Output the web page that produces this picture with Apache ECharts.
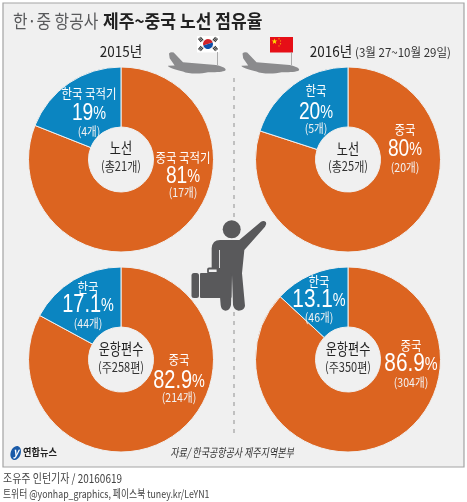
<!DOCTYPE html>
<html>
<head>
<meta charset="utf-8">
<style>
html, body { margin: 0; padding: 0; background: #fff; }
#main { width: 467px; height: 502px; }
</style>
<script src="https://cdn.jsdelivr.net/npm/echarts@6/dist/echarts.min.js"></script>
</head>
<body>
<div id="main"></div>
<script>
// 값: [중국, 한국]
var routes2015 = [81, 19];
var routes2016 = [80, 20];
var flights2015 = [82.9, 17.1];
var flights2016 = [86.9, 13.1];
var routeCount2015 = [17, 4];
var routeCount2016 = [20, 5];
var flightCount2015 = [214, 44];
var flightCount2016 = [304, 46];

var ORANGE = '#dc6420';
var BLUE = '#0b85c1';
var FONT = '"Noto Sans CJK KR", sans-serif';
var GREY = '#59595b';

var myChart = echarts.init(document.getElementById('main'), null, { renderer: 'canvas' });

// 비행기, 사람 외곽선 (zoom 3배 좌표)
echarts.graphic.registerShape('planeShape', echarts.graphic.extendPath(
    'M3 6 Q8 0 17 3 L45 32 L135 40 C160 42 173 50 173 55 C172 62 140 63 120 62 C100 68 60 68 45 60 C20 55 0 48 0 43 L20 42 L5 20 Z', {}));
echarts.graphic.registerShape('manShape', echarts.graphic.extendPath(
    'M185 175 Q187 150 210 150 L268 150 L333 95 Q342 90 348 97 Q351 104 345 110 L283 180 L276 250 L285 348 Q282 362 266 362 Q252 360 249 345 L246 255 L243 345 Q240 362 226 362 Q213 360 212 345 L210 320 L185 240 Z', {}));

function pie(center, values) {
    return {
        type: 'pie',
        silent: true,
        center: center,
        radius: [32.5, 92.5],
        startAngle: 90,
        label: { show: false },
        labelLine: { show: false },
        itemStyle: { borderColor: '#f0f0f0', borderWidth: 1 },
        data: [
            { value: values[0], name: '중국', itemStyle: { color: ORANGE } },
            { value: values[1], name: '한국', itemStyle: { color: BLUE } }
        ]
    };
}

// 글자 하나: 장평은 sx로 줄인다
function txt(text, x, y, size, fill, opt) {
    opt = opt || {};
    return {
        type: 'text',
        x: x,
        y: y,
        z: 20,
        scaleX: opt.sx || 0.88,
        silent: true,
        style: {
            text: text,
            x: 0,
            y: 0,
            fill: fill,
            align: opt.align || 'center',
            verticalAlign: 'middle',
            font: (opt.style || 'normal') + ' ' + (opt.weight || 'normal') + ' ' + size + 'px ' + FONT
        }
    };
}

// 퍼센트: 숫자는 크게, %는 작게
function pct(value, x, y, size) {
    return {
        type: 'text',
        x: x,
        y: y,
        z: 20,
        scaleX: 0.8,
        silent: true,
        style: {
            text: '{n|' + value + '}{p|%}',
            x: 0,
            y: 0,
            align: 'center',
            verticalAlign: 'middle',
            rich: {
                n: { fontFamily: 'Liberation Sans', fontSize: size, fill: '#fff', color: '#fff' },
                p: { fontFamily: 'Liberation Sans', fontSize: 18, fill: '#fff', color: '#fff', padding: [3, 0, 0, 0] }
            }
        }
    };
}

function rect(x, y, w, h, fill, z, r) {
    return {
        type: 'rect', z: z || 5, silent: true,
        shape: { x: x, y: y, width: w, height: h, r: r || 0 },
        style: { fill: fill }
    };
}

function line(x1, y1, x2, y2, stroke, width, dash) {
    return {
        type: 'line', z: 6, silent: true,
        shape: { x1: x1, y1: y1, x2: x2, y2: y2 },
        style: { stroke: stroke, lineWidth: width, lineDash: dash || null }
    };
}

function plane(x, y) {
    return {
        type: 'planeShape', z: 5, silent: true, x: x, y: y, scaleX: 1 / 3, scaleY: 1 / 3,
        style: { fill: '#8b8b8d' }
    };
}

function star(cx, cy, r) {
    var pts = [];
    for (var i = 0; i < 10; i++) {
        var a = -Math.PI / 2 + i * Math.PI / 5;
        var rr = i % 2 ? r * 0.4 : r;
        pts.push([cx + rr * Math.cos(a), cy + rr * Math.sin(a)]);
    }
    return { type: 'polygon', z: 7, silent: true, shape: { points: pts }, style: { fill: '#ffde00' } };
}

function trigram(cx, cy, rot) {
    return {
        type: 'group', x: cx, y: cy, rotation: rot, silent: true,
        children: [
            rect(-2.2, -1.8, 4.4, 0.9, '#222', 7),
            rect(-2.2, -0.45, 4.4, 0.9, '#222', 7),
            rect(-2.2, 0.9, 4.4, 0.9, '#222', 7)
        ]
    };
}

var elements = [];

// 바탕
elements.push({
    type: 'rect', z: 0, silent: true,
    shape: { x: 3, y: 3, width: 461, height: 464 },
    style: { fill: '#f0f0f0', stroke: '#a3a3a3', lineWidth: 1.2 }
});

// 제목
elements.push(txt('한·중 항공사', 13, 21, 18, '#58595b', { align: 'left', sx: 0.88 }));
elements.push(txt('제주~중국 노선 점유율', 103, 21, 18, '#222', { align: 'left', weight: 'bold', sx: 0.95 }));

// 연도
elements.push(txt('2015년', 121, 51, 15, '#222', { sx: 0.9 }));
elements.push(txt('2016년', 331, 51, 15, '#222', { sx: 0.9 }));
elements.push(txt('(3월 27~10월 29일)', 403, 52, 12, '#333', { sx: 0.96 }));

// 가운데 점선
elements.push(line(234, 78, 234, 220, '#b0b0b0', 1.5, [4, 5]));
elements.push(line(234, 312, 234, 436, '#b0b0b0', 1.5, [4, 5]));

// 비행기, 깃발
elements.push(plane(168, 51.5));
elements.push(plane(241.5, 51.5));
elements.push(line(217.5, 52, 217.5, 65, '#999', 0.8));
elements.push(line(291.5, 52, 291.5, 65, '#999', 0.8));

elements.push(rect(197, 36, 22.5, 16.5, '#fff', 5));
elements.push({
    type: 'sector', z: 7, silent: true,
    shape: { cx: 208, cy: 44, r: 5, startAngle: Math.PI * 0.9, endAngle: Math.PI * 1.9 },
    style: { fill: '#d2232a' }
});
elements.push({
    type: 'sector', z: 7, silent: true,
    shape: { cx: 208, cy: 44, r: 5, startAngle: Math.PI * 1.9, endAngle: Math.PI * 2.9 },
    style: { fill: '#0f4fa8' }
});
elements.push(trigram(200.8, 39.5, -0.9));
elements.push(trigram(215.2, 39.5, 0.9));
elements.push(trigram(200.8, 48.5, 0.9));
elements.push(trigram(215.2, 48.5, -0.9));

elements.push(rect(270, 37, 23, 15.5, '#e60f17', 5));
elements.push(star(274.5, 41.5, 3));
elements.push(star(279, 38.8, 0.9));
elements.push(star(280.5, 41, 0.9));
elements.push(star(280.5, 43.8, 0.9));
elements.push(star(279, 46, 0.9));

// 사람
elements.push({ type: 'circle', z: 5, silent: true, shape: { cx: 231.7, cy: 229.3, r: 9 }, style: { fill: GREY } });
elements.push({
    type: 'manShape', z: 5, silent: true, x: 150, y: 190, scaleX: 1 / 3, scaleY: 1 / 3,
    style: { fill: GREY }
});
elements.push(rect(200, 273, 31.5, 25, GREY, 6, 1));
elements.push(rect(191.5, 273, 7.5, 25, GREY, 6, 2.5));
elements.push({
    type: 'rect', z: 6, silent: true,
    shape: { x: 208, y: 268.5, width: 9.5, height: 4.5, r: 1 },
    style: { fill: '#f0f0f0', stroke: GREY, lineWidth: 1.8 }
});
elements.push(line(219.5, 250, 219.5, 268, '#f0f0f0', 0.9));

// 파이 안 글자
function pieLabels(o, values, counts) {
    elements.push(txt(o.nameK, o.kx, o.ky[0], 13, '#fff'));
    elements.push(pct(values[1], o.kx, o.ky[1], o.size));
    elements.push(txt('(' + counts[1] + '개)', o.kx, o.ky[2], 12, '#f2f2f2'));
    elements.push(txt(o.nameC, o.cx, o.cy[0], 13, '#fff'));
    elements.push(pct(values[0], o.cx, o.cy[1], o.size));
    elements.push(txt('(' + counts[0] + '개)', o.cx, o.cy[2], 12, '#f2f2f2'));
    elements.push(txt(o.title, o.bx, o.by[0], 16, '#222', { sx: 0.76 }));
    elements.push(txt(o.sub, o.bx, o.by[1], 13, '#333', { sx: 0.85 }));
}

pieLabels({ bx: 121, by: [148, 166], kx: 89, ky: [93, 113, 131], cx: 183, cy: [157, 176, 192], size: 24,
    nameK: '한국 국적기', nameC: '중국 국적기', title: '노선', sub: '(총21개)' }, routes2015, routeCount2015);
pieLabels({ bx: 348, by: [149, 166], kx: 316, ky: [90, 112, 128], cx: 405, cy: [129, 149, 167], size: 24,
    nameK: '한국', nameC: '중국', title: '노선', sub: '(총25개)' }, routes2016, routeCount2016);
pieLabels({ bx: 121, by: [349, 367], kx: 88, ky: [287, 305, 323], cx: 179, cy: [359, 381, 397], size: 25,
    nameK: '한국', nameC: '중국', title: '운항편수', sub: '(주258편)' }, flights2015, flightCount2015);
pieLabels({ bx: 348, by: [349, 367], kx: 319, ky: [281, 300, 317], cx: 411, cy: [345, 364, 382], size: 26,
    nameK: '한국', nameC: '중국', title: '운항편수', sub: '(주350편)' }, flights2016, flightCount2016);

// 출처, 로고
elements.push(txt('자료/ 한국공항공사 제주지역본부', 232, 452, 12, '#333', { style: 'italic', sx: 0.75 }));
elements.push({
    type: 'ellipse', z: 5, silent: true, x: 15.7, y: 453, rotation: -0.35,
    shape: { cx: 0, cy: 0, rx: 5, ry: 7.2 },
    style: { fill: '#1a5aa8' }
});
elements.push(txt('y', 16, 452, 11, '#fff', { style: 'italic', weight: 'bold' }));
elements.push(txt('연합뉴스', 23, 452, 10, '#222', { align: 'left', weight: 'bold', sx: 0.92 }));

// 아래 크레딧
elements.push(txt('조유주 인턴기자 / 20160619', 3, 478, 12, '#444', { align: 'left', sx: 0.83 }));
elements.push(txt('트위터 @yonhap_graphics, 페이스북 tuney.kr/LeYN1', 3, 494, 11, '#444', { align: 'left', sx: 0.8 }));

myChart.setOption({
    animation: false,
    backgroundColor: '#fff',
    series: [
        pie([121, 159.5], routes2015),
        pie([348, 159.5], routes2016),
        pie([121, 359.5], flights2015),
        pie([348, 359.5], flights2016)
    ],
    graphic: { elements: elements }
});
</script>
</body>
</html>
